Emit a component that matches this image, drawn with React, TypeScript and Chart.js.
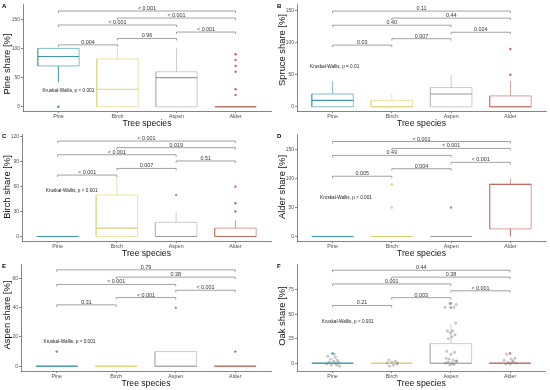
import React, { useEffect, useRef } from 'react';
import { Chart, registerables } from 'chart.js';
Chart.register(...registerables);

const FONT = '"Liberation Sans", Arial, Helvetica, sans-serif';

const SPECIES = ['Pine', 'Birch', 'Aspen', 'Alder'];
const COLORS = ['#4aa3b3', '#e0da80', '#b8b8b8', '#c9776e'];
const MEDIAN_COLORS = ['#3f97a8', '#d9d270', '#9a9a9a', '#c06a62'];
// comparison pairs, bottom bracket to top bracket
const PAIRS = [[1, 2], [2, 3], [3, 4], [1, 3], [2, 4], [1, 4]];

// Panel A – Pine share
const A_Q1 = [70, 0, 0, 0];
const A_MED = [86, 30, 50, 0];
const A_Q3 = [100, 82, 60, 0];
const A_LO = [42, 0, 0, 0];
const A_HI = [100, 100, 100, 0];
const A_OUT = [[0], [], [], [90, 80, 70, 60, 30, 20]];
const A_BRY = [106, 117, 128, 140, 152, 164];
const A_P = ['0.004', '0.96', '< 0.001', '< 0.001', '< 0.001', '< 0.001'];
const A_TICKS = [0, 50, 100, 150];

// Panel B – Spruce share
const B_Q1 = [0, 0, 0, 0];
const B_MED = [10, 0, 20, 0];
const B_Q3 = [20, 10, 30, 17];
const B_LO = [0, 0, 0, 0];
const B_HI = [40, 20, 50, 40];
const B_OUT = [[], [], [], [50, 90]];
const B_BRY = [96, 106, 116, 127, 138, 149];
const B_P = ['0.03', '0.007', '0.024', '0.40', '0.44', '0.11'];
const B_TICKS = [0, 50, 100, 150];

// Panel C – Birch share
const C_Q1 = [0, 0, 0, 0];
const C_MED = [0, 10, 0, 0];
const C_Q3 = [0, 50, 17, 10];
const C_LO = [0, 0, 0, 0];
const C_HI = [0, 72, 30, 20];
const C_OUT = [[], [], [50], [60, 40, 30]];
const C_BRY = [74, 82, 91, 98.5, 107, 115];
const C_P = ['< 0.001', '0.007', '0.51', '< 0.001', '0.019', '< 0.001'];
const C_TICKS = [0, 30, 60, 90, 120];

// Panel D – Alder share
const D_Q1 = [0, 0, 0, 13];
const D_MED = [0, 0, 0, 90];
const D_Q3 = [0, 0, 0, 90];
const D_LO = [0, 0, 0, 0];
const D_HI = [0, 0, 0, 100];
const D_OUT = [[], [90, 50], [50], []];
const D_BRY = [104, 117, 128, 140, 152, 164];
const D_P = ['0.005', '0.004', '< 0.001', '0.43', '< 0.001', '< 0.001'];
const D_TICKS = [0, 50, 100, 150];

// Panel E – Aspen share
const E_Q1 = [0, 0, 0, 0];
const E_MED = [0, 0, 0, 0];
const E_Q3 = [0, 0, 10, 0];
const E_LO = [0, 0, 0, 0];
const E_HI = [0, 0, 10, 0];
const E_OUT = [[10], [], [40], [10]];
const E_BRY = [42, 47, 52, 56, 61, 66];
const E_P = ['0.31', '< 0.001', '< 0.001', '< 0.001', '0.38', '0.79'];
const E_TICKS = [0, 20, 40, 60];

// Panel F – Oak share
const F_Q1 = [0, 0, 0, 0];
const F_MED = [0, 0, 0, 0];
const F_Q3 = [0, 0, 20, 0];
const F_LO = [0, 0, 0, 0];
const F_HI = [0, 0, 40, 0];
const F_OUT = [[10], [], [57, 61], [10]];
const F_BRY = [59, 67, 74, 81, 88, 95];
const F_P = ['0.21', '0.003', '< 0.001', '0.001', '0.38', '0.44'];
const F_TICKS = [0, 25, 50, 75];
// jittered observations (category offset, value)
const F_JIT_PINE_DX = [-0.08, 0.05, -0.03, 0.08, 0.02, -0.06, 0.1, 0.04, -0.1, 0.07, -0.02, 0.12, 0.03];
const F_JIT_PINE_Y = [7, 6, 4, 3, 2, 1, 1, 0, -1, -2, -2, -3, 9];
const F_JIT_BIRCH_DX = [-0.05, 0.06, 0.0, -0.08, 0.09, 0.03, -0.04, 0.1];
const F_JIT_BIRCH_Y = [3, 2, 1, 0, -1, -2, -3, 0.5];
const F_JIT_ASPEN_DX = [-0.1, -0.02, 0.05, 0.09, 0.08, -0.06, -0.01, 0.03, 0.07, 0.02, -0.04, -0.07, 0.06, 0.0, -0.08, -0.03, 0.04, 0.09, -0.05, 0.01, 0.06, -0.09, 0.1, -0.02, 0.03];
const F_JIT_ASPEN_Y = [57, 61, 57, 60, 41, 33, 31, 33, 29, 27, 25, 12, 11, 9, 5, 4, 3, 2, 1, 0, -1, 0, 2, -2, -1];
const F_JIT_ALDER_DX = [-0.06, 0.08, 0.02, -0.1, 0.05, -0.03, 0.1, 0.0, -0.07, 0.04];
const F_JIT_ALDER_Y = [9, 5, 4, 3, 2, 1, 0, -1, -1, 0.5];

const PANELS = [
  { letter: 'A', title: 'Pine share [%]', q1: A_Q1, med: A_MED, q3: A_Q3, lo: A_LO, hi: A_HI, out: A_OUT, bry: A_BRY, p: A_P, ticks: A_TICKS, min: -7.2, max: 176, left: 23, kw: 'Kruskal-Wallis, p < 0.001', kwX: 0.73, kwY: 28, titleY: 64, x: 0, y: 0 },
  { letter: 'B', title: 'Spruce share [%]', q1: B_Q1, med: B_MED, q3: B_Q3, lo: B_LO, hi: B_HI, out: B_OUT, bry: B_BRY, p: B_P, ticks: B_TICKS, min: -6.5, max: 160, left: 22, kw: 'Kruskal-Wallis, p = 0.01', kwX: 0.62, kwY: 62, titleY: 50, x: 275, y: 0 },
  { letter: 'C', title: 'Birch share [%]', q1: C_Q1, med: C_MED, q3: C_Q3, lo: C_LO, hi: C_HI, out: C_OUT, bry: C_BRY, p: C_P, ticks: C_TICKS, min: -5.5, max: 123.5, left: 22, kw: 'Kruskal-Wallis, p < 0.001', kwX: 0.8, kwY: 55, titleY: 57, x: 0, y: 130 },
  { letter: 'D', title: 'Alder share [%]', q1: D_Q1, med: D_MED, q3: D_Q3, lo: D_LO, hi: D_HI, out: D_OUT, bry: D_BRY, p: D_P, ticks: D_TICKS, min: -7.9, max: 177, left: 22, kw: 'Kruskal-Wallis, p < 0.001', kwX: 0.79, kwY: 67, titleY: 57, x: 275, y: 130 },
  { letter: 'E', title: 'Aspen share [%]', q1: E_Q1, med: E_MED, q3: E_Q3, lo: E_LO, hi: E_HI, out: E_OUT, bry: E_BRY, p: E_P, ticks: E_TICKS, min: -3.3, max: 70, left: 21, kw: 'Kruskal-Wallis, p < 0.001', kwX: 0.78, kwY: 17, titleY: 55, x: 0, y: 260 },
  { letter: 'F', title: 'Oak share [%]', q1: F_Q1, med: F_MED, q3: F_Q3, lo: F_LO, hi: F_HI, out: F_OUT, bry: F_BRY, p: F_P, ticks: F_TICKS, min: -8, max: 101, left: 22, kw: 'Kruskal-Wallis, p < 0.001', kwX: 0.82, kwY: 42, titleY: 56, x: 275, y: 260,
    jitter: [
      [F_JIT_PINE_DX, F_JIT_PINE_Y],
      [F_JIT_BIRCH_DX, F_JIT_BIRCH_Y],
      [F_JIT_ASPEN_DX, F_JIT_ASPEN_Y],
      [F_JIT_ALDER_DX, F_JIT_ALDER_Y],
    ] },
];

const W = 275;
const H = 130;
const BOTTOM = 111;
const HALF = 0.35;

function buildDatasets(cfg: any) {
  const ds: any[] = [];
  if (cfg.jitter) {
    const pts: any[] = [];
    cfg.jitter.forEach((pair: any, i: number) => {
      pair[0].forEach((dx: number, k: number) => pts.push({ x: i + 1 + dx, y: pair[1][k] }));
    });
    ds.push({ type: 'scatter', data: pts, pointRadius: 1.1, backgroundColor: 'rgba(150,150,150,0.35)', borderColor: 'rgba(110,110,110,0.8)', borderWidth: 0.4 });
  }
  SPECIES.forEach((_, i) => {
    const x = i + 1;
    ds.push({
      type: 'scatter',
      data: cfg.out[i].map((v: number) => ({ x, y: v })),
      pointRadius: 1.2,
      backgroundColor: MEDIAN_COLORS[i],
      borderWidth: 0,
    });
    ds.push({
      type: 'line',
      data: [{ x: x - HALF, y: cfg.med[i] }, { x: x + HALF, y: cfg.med[i] }],
      borderColor: MEDIAN_COLORS[i], borderWidth: 1.1, pointRadius: 0, fill: false, tension: 0,
    });
    ds.push({
      type: 'line',
      data: [
        { x: x - HALF, y: cfg.q1[i] }, { x: x + HALF, y: cfg.q1[i] }, { x: x + HALF, y: cfg.q3[i] },
        { x: x - HALF, y: cfg.q3[i] }, { x: x - HALF, y: cfg.q1[i] },
        { x, y: null },
        { x, y: cfg.q3[i] }, { x, y: cfg.hi[i] },
        { x, y: null },
        { x, y: cfg.q1[i] }, { x, y: cfg.lo[i] },
      ],
      borderColor: COLORS[i], borderWidth: 0.7, pointRadius: 0, fill: false, tension: 0, spanGaps: false,
    });
  });
  return ds;
}

function Panel({ cfg }: { cfg: any }) {
  const ref = useRef<HTMLCanvasElement | null>(null);
  useEffect(() => {
    if (!ref.current) return;
    const deco = {
      id: 'deco',
      afterDatasetsDraw(chart: any) {
        const ctx = chart.ctx;
        const xs = chart.scales.x;
        const ys = chart.scales.y;
        const area = chart.chartArea;
        ctx.save();
        // brackets
        ctx.strokeStyle = '#7a7a7a';
        ctx.lineWidth = 0.7;
        ctx.fillStyle = '#333';
        ctx.font = `5.4px ${FONT}`;
        ctx.textAlign = 'center';
        ctx.textBaseline = 'alphabetic';
        PAIRS.forEach((pr, k) => {
          const x1 = xs.getPixelForValue(pr[0]);
          const x2 = xs.getPixelForValue(pr[1]);
          const yy = ys.getPixelForValue(cfg.bry[k]);
          ctx.beginPath();
          ctx.moveTo(x1, yy + 2);
          ctx.lineTo(x1, yy);
          ctx.lineTo(x2, yy);
          ctx.lineTo(x2, yy + 2);
          ctx.stroke();
          ctx.fillText(cfg.p[k], (x1 + x2) / 2, yy - 1);
        });
        // Kruskal-Wallis
        ctx.font = `4.7px ${FONT}`;
        ctx.textAlign = 'left';
        ctx.textBaseline = 'middle';
        ctx.fillStyle = '#222';
        ctx.fillText(cfg.kw, xs.getPixelForValue(cfg.kwX), ys.getPixelForValue(cfg.kwY));
        // panel letter
        ctx.font = `bold 6px ${FONT}`;
        ctx.fillStyle = '#000';
        ctx.fillText(cfg.letter, 2, 6);
        // axis titles
        ctx.font = `8.6px ${FONT}`;
        ctx.fillStyle = '#111';
        ctx.textAlign = 'center';
        ctx.fillText('Tree species', (area.left + area.right) / 2, 123.5);
        ctx.translate(7, cfg.titleY);
        ctx.rotate(-Math.PI / 2);
        ctx.font = `9.4px ${FONT}`;
        ctx.fillText(cfg.title, 0, 0);
        ctx.restore();
      },
    };
    const chart = new Chart(ref.current, {
      type: 'scatter',
      data: { datasets: buildDatasets(cfg) },
      options: {
        responsive: false,
        animation: false,
        devicePixelRatio: 1,
        layout: { padding: { top: 1, right: 2, left: 0, bottom: 0 } },
        plugins: { legend: { display: false }, tooltip: { enabled: false } },
        scales: {
          x: {
            type: 'linear', min: 0.4, max: 4.6,
            afterBuildTicks: (s: any) => { s.ticks = [1, 2, 3, 4].map((v) => ({ value: v })); },
            afterFit: (s: any) => { s.height = H - BOTTOM; s.paddingLeft = 0; s.paddingRight = 0; },
            ticks: { callback: (v: any) => SPECIES[Math.round(v) - 1] ?? '', autoSkip: false, maxRotation: 0, font: { size: 5.3, family: FONT }, color: '#4d4d4d', padding: 0 },
            grid: { display: true, drawOnChartArea: false, drawTicks: true, tickLength: 2, color: '#333', lineWidth: 0.6 },
            border: { display: true, color: '#333', width: 0.6 },
          },
          y: {
            type: 'linear', min: cfg.min, max: cfg.max,
            afterBuildTicks: (s: any) => { s.ticks = cfg.ticks.map((v: number) => ({ value: v })); },
            afterFit: (s: any) => { s.width = cfg.left; s.paddingTop = 0; s.paddingBottom = 0; },
            ticks: { font: { size: 4.9, family: FONT }, color: '#4d4d4d', padding: 1 },
            grid: { display: true, drawOnChartArea: false, drawTicks: true, tickLength: 2, color: '#333', lineWidth: 0.6 },
            border: { display: true, color: '#333', width: 0.6 },
          },
        },
      } as any,
      plugins: [deco],
    } as any);
    return () => chart.destroy();
  }, [cfg]);
  return (
    <canvas
      ref={ref}
      width={W}
      height={H}
      style={{ position: 'absolute', left: cfg.x, top: cfg.y, width: W, height: H }}
    />
  );
}

export default function App() {
  return (
    <div style={{ position: 'absolute', left: 0, top: 0, width: 550, height: 390, background: '#fff', overflow: 'hidden' }}>
      {PANELS.map((p) => (
        <Panel key={p.letter} cfg={p} />
      ))}
    </div>
  );
}
